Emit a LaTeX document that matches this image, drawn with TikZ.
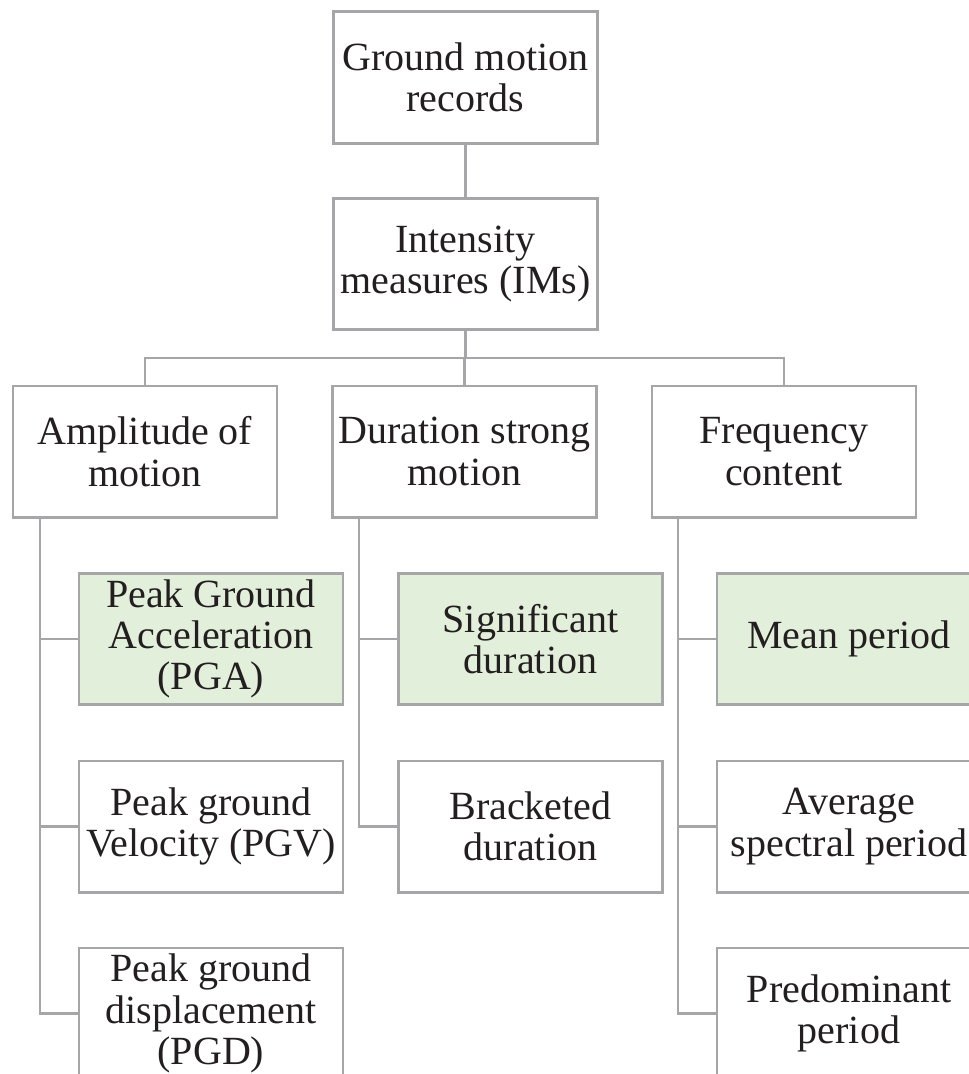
\documentclass[tikz,border=0pt]{standalone}
\usepackage{fontspec}
\setmainfont{Liberation Serif}
\usetikzlibrary{calc}
\definecolor{linegray}{RGB}{166,166,168}
\definecolor{boxgreen}{RGB}{226,239,218}
\definecolor{inktext}{RGB}{35,31,32}
\tikzset{
  box/.style={draw=linegray, line width=2pt, rectangle, fill=white,
    minimum width=198pt, minimum height=98.5pt, inner sep=0pt,
    align=center, text=inktext, font=\fontsize{30pt}{31pt}\selectfont},
  keybox/.style={box, fill=boxgreen},
  link/.style={draw=linegray, line width=2pt}
}
\begin{document}
\begin{tikzpicture}[x=0.75pt,y=-0.75pt]
\useasboundingbox (0,0) rectangle (969,1074);
\clip (0,0) rectangle (969,1074);

% top of the hierarchy
\node[box] (rec) at (465.5,77.5) {Ground motion\\records};
\node[box] (ims) at (465.5,264) {Intensity\\measures (IMs)};

% three families of intensity measures
\node[box] (amp)  at (145,451.5)   {Amplitude of\\motion};
\node[box] (dur)  at (464.5,451.5) {Duration strong\\motion};
\node[box] (freq) at (784,451.5)   {Frequency\\content};

% amplitude measures
\node[keybox] (pga) at (211,639)    {Peak Ground\\Acceleration\\(PGA)};
\node[box]    (pgv) at (211,826.5)  {Peak ground\\Velocity (PGV)};
\node[box]    (pgd) at (211,1013.5) {Peak ground\\displacement\\(PGD)};

% duration measures
\node[keybox] (sig) at (530.5,639)   {Significant\\duration};
\node[box]    (brk) at (530.5,826.5) {Bracketed\\duration};

% frequency measures
\node[keybox] (mean) at (849,639)    {Mean period};
\node[box]    (avg)  at (849,826.5)  {Average\\spectral period};
\node[box]    (pred) at (849,1013.5) {Predominant\\period};

% bus below the IM box
\coordinate (bus) at (465.5,358);
\draw[link] (rec.south) -- (ims.south |- rec.south) -- (ims.north);
\draw[link] (ims.south) -- (bus);
\draw[link] (amp.north) -- (amp.north |- bus) -- (freq.north |- bus) -- (freq.north);
\draw[link] (bus -| dur.north) -- (dur.north);

% trunks running down the left side of each column
\coordinate (ampx)  at (40,517);
\coordinate (durx)  at (359,517);
\coordinate (freqx) at (678,517);

\draw[link] (ampx) |- (pgd.west);
\draw[link] (pga.west -| ampx) -- (pga.west);
\draw[link] (pgv.west -| ampx) -- (pgv.west);

\draw[link] (durx) |- (brk.west);
\draw[link] (sig.west -| durx) -- (sig.west);

\draw[link] (freqx) |- (pred.west);
\draw[link] (mean.west -| freqx) -- (mean.west);
\draw[link] (avg.west -| freqx) -- (avg.west);
\end{tikzpicture}
\end{document}
